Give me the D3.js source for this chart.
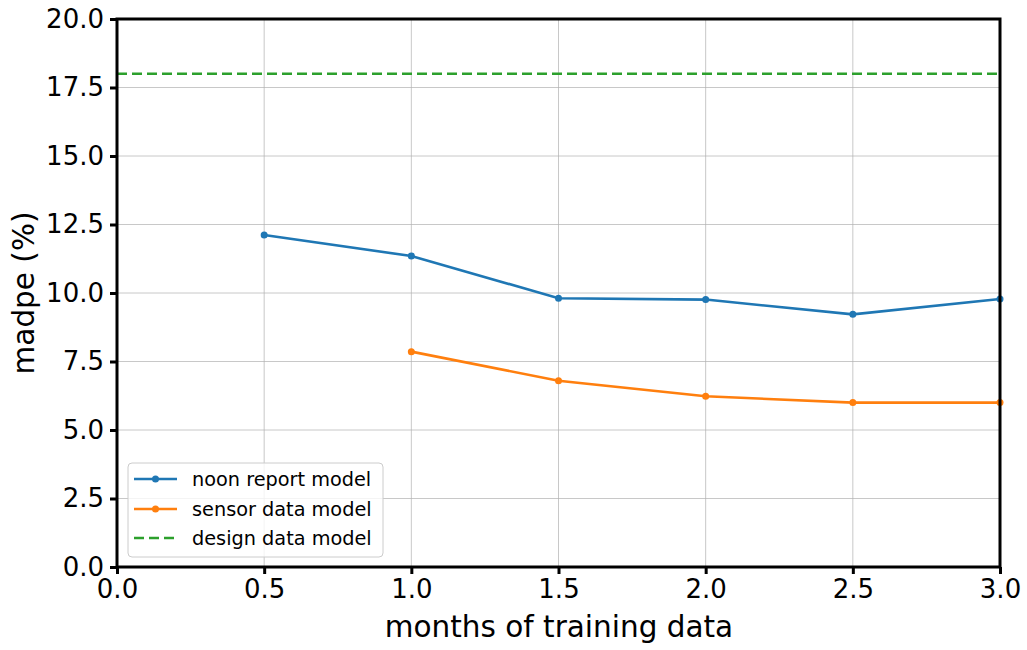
<!DOCTYPE html>
<html>
<head>
<meta charset="utf-8">
<script src="https://cdn.jsdelivr.net/npm/d3@7"></script>
<style>
  body { margin: 0; background: #fff; }
  svg text { font-family: "DejaVu Sans", sans-serif; fill: #000; }
</style>
</head>
<body>
<div class="container"></div>
<script>
// data
const noonMonths = [0.5, 1.0, 1.5, 2.0, 2.5, 3.0];
const noonMadpe = [12.12, 11.35, 9.81, 9.76, 9.22, 9.78];
const sensorMonths = [1.0, 1.5, 2.0, 2.5, 3.0];
const sensorMadpe = [7.86, 6.80, 6.23, 6.00, 6.00];
const designMadpe = 18.0;
const xTicks = [0, 0.5, 1, 1.5, 2, 2.5, 3];
const yTicks = [0, 2.5, 5, 7.5, 10, 12.5, 15, 17.5, 20];
const seriesNames = ["noon report model", "sensor data model", "design data model"];

const w = 1027;
const h = 650;
const plotLeft = 117, plotRight = 1000, plotTop = 19, plotBottom = 567;

const xScale = d3.scaleLinear().domain([0, 3]).range([plotLeft, plotRight]);
const yScale = d3.scaleLinear().domain([0, 20]).range([plotBottom, plotTop]);

const svg = d3.select(".container")
  .append("svg")
  .attr("width", w)
  .attr("height", h);

// grid
svg.append("g")
  .selectAll("line")
  .data(xTicks)
  .enter()
  .append("line")
  .attr("x1", d => xScale(d)).attr("x2", d => xScale(d))
  .attr("y1", plotTop).attr("y2", plotBottom)
  .attr("stroke", "#b0b0b0").attr("stroke-opacity", 0.7).attr("stroke-width", 1);

svg.append("g")
  .selectAll("line")
  .data(yTicks)
  .enter()
  .append("line")
  .attr("x1", plotLeft).attr("x2", plotRight)
  .attr("y1", d => yScale(d)).attr("y2", d => yScale(d))
  .attr("stroke", "#b0b0b0").attr("stroke-opacity", 0.7).attr("stroke-width", 1);

const line = d3.line()
  .x(d => xScale(d[0]))
  .y(d => yScale(d[1]));

const noon = noonMonths.map((m, i) => [m, noonMadpe[i]]);
const sensor = sensorMonths.map((m, i) => [m, sensorMadpe[i]]);

svg.append("path")
  .datum([[0, designMadpe], [3, designMadpe]])
  .attr("d", line)
  .attr("fill", "none")
  .attr("stroke", "#2ca02c")
  .attr("stroke-width", 2.6)
  .attr("stroke-dasharray", "10,5");

[[noon, "#1f77b4"], [sensor, "#ff7f0e"]].forEach(([data, color]) => {
  svg.append("path")
    .datum(data)
    .attr("d", line)
    .attr("fill", "none")
    .attr("stroke", color)
    .attr("stroke-width", 2.6);
  svg.append("g")
    .selectAll("circle")
    .data(data)
    .enter()
    .append("circle")
    .attr("cx", d => xScale(d[0]))
    .attr("cy", d => yScale(d[1]))
    .attr("r", 3.5)
    .attr("fill", color);
});

// axes
const xAxis = d3.axisBottom(xScale).tickValues(xTicks).tickFormat(d3.format(".1f")).tickSize(7).tickPadding(6);
const yAxis = d3.axisLeft(yScale).tickValues(yTicks).tickFormat(d3.format(".1f")).tickSize(7).tickPadding(6);

const gx = svg.append("g")
  .attr("transform", "translate(0," + plotBottom + ")")
  .call(xAxis);
const gy = svg.append("g")
  .attr("transform", "translate(" + plotLeft + ",0)")
  .call(yAxis);

[gx, gy].forEach(g => {
  g.select(".domain").remove();
  g.selectAll(".tick line").attr("stroke", "#000").attr("stroke-width", 3);
  g.selectAll(".tick text").style("font-size", "26px").attr("fill", "#000");
});

// frame
svg.append("rect")
  .attr("x", plotLeft).attr("y", plotTop)
  .attr("width", plotRight - plotLeft).attr("height", plotBottom - plotTop)
  .attr("fill", "none")
  .attr("stroke", "#000")
  .attr("stroke-width", 3);

// axis labels
svg.append("text")
  .attr("x", 559)
  .attr("y", 637)
  .attr("text-anchor", "middle")
  .style("font-size", "29.5px")
  .text("months of training data");

svg.append("text")
  .attr("transform", "translate(34," + ((plotTop + plotBottom) / 2) + ") rotate(-90)")
  .attr("text-anchor", "middle")
  .style("font-size", "29.5px")
  .text("madpe (%)");

// legend
const legend = svg.append("g");
legend.append("rect")
  .attr("x", 128).attr("y", 463)
  .attr("width", 255).attr("height", 94)
  .attr("rx", 4)
  .attr("fill", "#fff").attr("fill-opacity", 0.8)
  .attr("stroke", "#cccccc").attr("stroke-width", 1);

const legendColors = ["#1f77b4", "#ff7f0e", "#2ca02c"];
const legendY = [479, 509, 538];
seriesNames.forEach((name, i) => {
  legend.append("line")
    .attr("x1", 134).attr("x2", 177)
    .attr("y1", legendY[i]).attr("y2", legendY[i])
    .attr("stroke", legendColors[i])
    .attr("stroke-width", 2.6)
    .attr("stroke-dasharray", i === 2 ? "10,5" : null);
  if (i < 2) {
    legend.append("circle")
      .attr("cx", 155.5).attr("cy", legendY[i]).attr("r", 3.5)
      .attr("fill", legendColors[i]);
  }
  legend.append("text")
    .attr("x", 192).attr("y", legendY[i] + 6.5)
    .style("font-size", "19.3px")
    .attr("fill", "#222")
    .text(name);
});
</script>
</body>
</html>
